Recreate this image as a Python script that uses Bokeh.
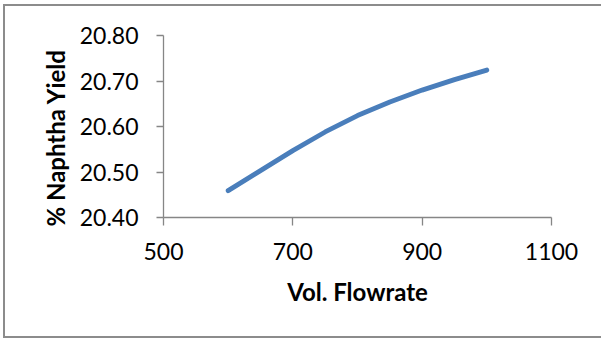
from bokeh.plotting import figure
from bokeh.models import Range1d, FixedTicker, NumeralTickFormatter, Title
from bokeh.embed import file_html
from bokeh.resources import INLINE

# Naphtha yield versus volumetric flowrate
flowrate = [600, 650, 700, 750, 800, 850, 900, 950, 1000]
naphtha_yield = [20.459, 20.503, 20.547, 20.588, 20.624, 20.654, 20.680, 20.703, 20.724]

x_ticks = [500, 700, 900, 1100]
y_ticks = [20.40, 20.50, 20.60, 20.70, 20.80]

x_title = "Vol. Flowrate"
y_title = "% Naphtha Yield"

FONT = "Lato"
AXIS_GREY = "#868686"
BORDER = "2px solid #8c8c8c"

# canvas sits inside a grey frame drawn on its top, left and bottom edges
W, H = 598, 334
p = figure(width=W, height=H, output_backend="svg", toolbar_location=None,
           x_range=Range1d(500, 1100), y_range=Range1d(20.40, 20.80),
           min_border_left=158, min_border_right=52,
           min_border_top=29, min_border_bottom=123,
           styles={"margin-left": "3px", "margin-top": "4px",
                   "border-left": BORDER, "border-top": BORDER, "border-bottom": BORDER})
p.background_fill_color = "white"
p.border_fill_color = "white"
p.outline_line_color = None
p.xgrid.visible = False
p.ygrid.visible = False

p.line(flowrate, naphtha_yield, line_color="#4a7ebb", line_width=4.8, line_cap="round",
       line_join="round")

for ax in (p.xaxis[0], p.yaxis[0]):
    ax.axis_line_color = AXIS_GREY
    ax.axis_line_width = 1.3
    ax.major_tick_line_color = AXIS_GREY
    ax.major_tick_line_width = 1.3
    ax.major_tick_in = 0
    ax.minor_tick_line_color = None
    ax.major_label_text_font = FONT
    ax.major_label_text_font_size = "23px"
    ax.major_label_text_color = "black"

p.xaxis[0].ticker = FixedTicker(ticks=x_ticks)
p.xaxis[0].major_tick_out = 8
p.xaxis[0].major_label_standoff = 17
p.xaxis[0].axis_label = x_title
p.xaxis[0].axis_label_text_font = FONT
p.xaxis[0].axis_label_text_font_style = "bold"
p.xaxis[0].axis_label_text_font_size = "24px"
p.xaxis[0].axis_label_text_color = "black"
p.xaxis[0].axis_label_standoff = 14

p.yaxis[0].ticker = FixedTicker(ticks=y_ticks)
p.yaxis[0].formatter = NumeralTickFormatter(format="0.00")
p.yaxis[0].major_tick_out = 7
p.yaxis[0].major_label_standoff = 18

p.add_layout(Title(text=y_title, align="left", offset=-9, standoff=14,
                   text_font=FONT, text_font_style="bold", text_font_size="24px",
                   text_color="black"), "left")

open("out.html", "w").write(file_html(p, INLINE))
